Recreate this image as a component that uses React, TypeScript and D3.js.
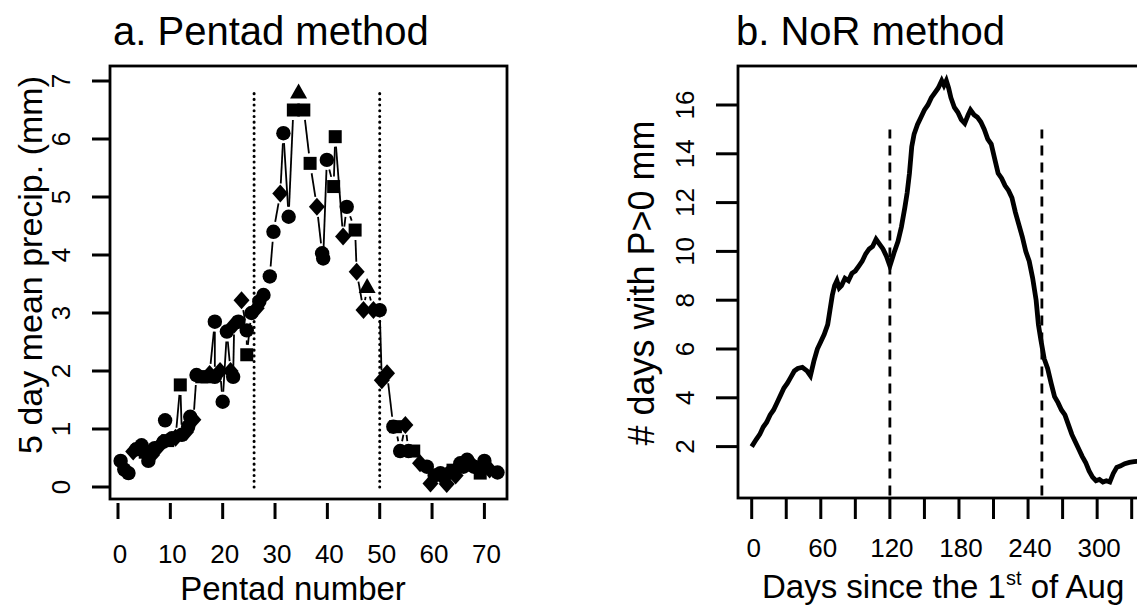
import React from "react";
import * as d3 from "d3";

// ---------- Panel a data: 5-day mean precip (pentad, value, marker shape) ----------
const pentadX: number[] = [
  0.5, 1.2, 2.0, 2.9, 3.5, 4.5, 5.2, 5.8, 6.5, 7.0, 7.8, 8.7, 9.0, 9.5, 10.3, 11.0, 11.9, 12.2, 13.0, 13.4, 13.8, 14.4,
  15.0, 16.0, 17.0, 17.5, 18.5, 18.5, 19.5, 20.0, 20.8, 21.5, 22.0, 22.2, 23.0, 23.6, 24.6, 24.6, 25.5, 26.5, 27.0, 27.8, 29.0, 29.7,
  31.0, 31.6, 32.6, 33.5, 34.5, 35.5, 36.7, 38.0, 39.0, 39.2, 39.9, 41.2, 41.5, 43.0, 43.7, 45.3, 45.6, 46.9, 47.6, 48.8, 50.0,
  50.4, 51.4, 52.6, 53.0, 53.9, 54.9, 55.5, 56.5, 57.7, 59.0, 59.7, 60.5, 61.6, 62.2, 62.8, 63.5, 64.0, 64.5, 65.4, 66.0, 66.7,
  67.5, 68.0, 69.2, 70.0, 71.0, 72.5,
];
const pentadY: number[] = [
  0.45, 0.3, 0.24, 0.61, 0.65, 0.72, 0.6, 0.45, 0.55, 0.67, 0.7, 0.78, 1.15, 0.8, 0.84, 0.85, 1.76, 0.9, 0.95, 1.04, 1.21, 1.16,
  1.93, 1.9, 1.9, 1.95, 2.85, 1.9, 2.0, 1.47, 2.68, 2.0, 1.9, 2.8, 2.85, 3.22, 2.7, 2.28, 3.0, 3.08, 3.2, 3.31, 3.63, 4.4,
  5.06, 6.1, 4.66, 6.5, 6.8, 6.5, 5.58, 4.83, 4.03, 3.94, 5.64, 5.18, 6.04, 4.32, 4.83, 4.43, 3.71, 3.05, 3.45, 3.05, 3.05,
  1.84, 1.96, 1.04, 1.04, 0.62, 1.07, 0.62, 0.62, 0.41, 0.35, 0.06, 0.2, 0.24, 0.15, 0.05, 0.25, 0.29, 0.2, 0.41, 0.35, 0.47,
  0.4, 0.35, 0.24, 0.45, 0.3, 0.25,
];
const pentadShape: string[] = [
  "c", "c", "c", "d", "c", "c", "s", "c", "d", "c", "d", "c", "c", "s", "c", "d", "s", "c", "d", "c", "c", "d",
  "c", "s", "s", "d", "c", "c", "d", "c", "c", "d", "c", "d", "c", "d", "c", "s", "c", "d", "c", "c", "c", "c",
  "d", "c", "c", "s", "t", "s", "s", "d", "c", "c", "c", "s", "s", "d", "c", "s", "d", "d", "t", "d", "c",
  "d", "d", "c", "s", "c", "d", "c", "s", "d", "c", "d", "c", "c", "d", "d", "c", "s", "d", "c", "c", "c",
  "d", "c", "s", "c", "d", "c",
];
const pentadTicks: number[] = [0, 10, 20, 30, 40, 50, 60, 70];
const precipTicks: number[] = [0, 1, 2, 3, 4, 5, 6, 7];
const pentadMarks: number[] = [26, 50];

// ---------- Panel b data: number of rainy days ----------
const norDays: number[] = [
  0, 4, 7, 10, 13, 16, 19, 22, 25, 28, 31, 34, 37, 40, 44, 48, 51, 54, 57, 60, 63, 66, 68, 70, 72, 74, 76, 78, 81, 84, 87, 90,
  93, 96, 99, 102, 105, 108, 111, 114, 117, 120, 122, 124, 127, 130, 133, 135, 137, 139, 141, 144, 147, 150, 153, 156, 159,
  162, 165, 167, 169, 171, 173, 176, 179, 182, 185, 188, 190, 193, 196, 199, 202, 205, 208, 211, 214, 217, 220, 223, 226,
  229, 232, 235, 238, 241, 244, 247, 249, 251, 254, 257, 260, 263, 266, 269, 272, 275, 278, 281, 284, 287, 290, 293, 296,
  299, 302, 305, 308, 311, 314, 317, 320, 324, 328, 332, 336, 340,
];
const norValues: number[] = [
  2.0, 2.3, 2.5, 2.8, 3.0, 3.3, 3.5, 3.8, 4.1, 4.4, 4.6, 4.85, 5.1, 5.2, 5.25, 5.1, 4.9, 5.5, 6.0, 6.3, 6.6, 7.0, 7.6, 8.2,
  8.6, 8.8, 8.5, 8.6, 8.9, 8.8, 9.1, 9.2, 9.4, 9.6, 9.9, 10.1, 10.2, 10.5, 10.3, 10.1, 9.8, 9.4, 9.7, 10.0, 10.4, 11.0,
  11.8, 12.4, 13.2, 14.3, 14.8, 15.2, 15.5, 15.8, 16.0, 16.3, 16.5, 16.7, 17.0, 16.8, 17.0, 16.7, 16.3, 15.9, 15.7, 15.4,
  15.25, 15.6, 15.8, 15.6, 15.5, 15.3, 15.0, 14.6, 14.4, 13.8, 13.2, 13.0, 12.7, 12.5, 12.2, 11.6, 11.1, 10.6, 10.0, 9.6,
  8.9, 8.0, 7.0, 6.4, 5.6, 5.2, 4.6, 4.05, 3.8, 3.5, 3.3, 2.9, 2.5, 2.2, 1.9, 1.6, 1.35, 1.0, 0.75, 0.6, 0.65, 0.55, 0.6,
  0.55, 0.9, 1.15, 1.2, 1.3, 1.35, 1.38, 1.4, 1.4,
];
const dayTicks: number[] = [0, 30, 60, 90, 120, 150, 180, 210, 240, 270, 300, 330];
const dayLabels: number[] = [0, 60, 120, 180, 240, 300];
const rainTicks: number[] = [2, 4, 6, 8, 10, 12, 14, 16];
const dayMarks: number[] = [120, 252];

const FONT = "'Liberation Sans', Arial, Helvetica, sans-serif";

export default function App() {
  const W = 1137, H = 608;
  // Panel a geometry
  const aBox = { l: 110, r: 507, t: 66, b: 499 };
  const xA = d3.scaleLinear().domain([0, 70]).range([118, 484.4]);
  const yA = d3.scaleLinear().domain([0, 7]).range([487, 81]);
  // Panel b geometry
  const bBox = { l: 738, r: 1160, t: 66, b: 498 };
  const xB = d3.scaleLinear().domain([0, 330]).range([751.7, 1131.7]);
  const yB = d3.scaleLinear().domain([2, 16]).range([446.6, 105]);

  const pts = pentadX.map((p, i) => ({ x: xA(p), y: yA(pentadY[i]), s: pentadShape[i] }));
  // type "b" connectors with gaps around the symbols
  const gap = 10;
  const connectors = pts.slice(1).map((q, i) => {
    const p = pts[i];
    const dx = q.x - p.x, dy = q.y - p.y;
    const len = Math.hypot(dx, dy);
    if (len <= 2 * gap + 2) return null;
    const ux = dx / len, uy = dy / len;
    return { x1: p.x + ux * gap, y1: p.y + uy * gap, x2: q.x - ux * gap, y2: q.y - uy * gap };
  });

  const marker = (m: { x: number; y: number; s: string }, i: number) => {
    if (m.s === "c") return <circle key={i} cx={m.x} cy={m.y} r={7.2} fill="#000" />;
    if (m.s === "s") return <rect key={i} x={m.x - 6.5} y={m.y - 6.5} width={13} height={13} fill="#000" />;
    if (m.s === "d")
      return <path key={i} d={`M${m.x},${m.y - 9}L${m.x + 8},${m.y}L${m.x},${m.y + 9}L${m.x - 8},${m.y}Z`} fill="#000" />;
    return <path key={i} d={`M${m.x},${m.y - 9}L${m.x + 8.5},${m.y + 6}L${m.x - 8.5},${m.y + 6}Z`} fill="#000" />;
  };

  const line = d3
    .line<number>()
    .x((d, i) => xB(norDays[i]))
    .y((d) => yB(d))
    .curve(d3.curveLinear);

  return (
    <svg width={W} height={H} style={{ position: "absolute", left: 0, top: 0, background: "#fff" }} fontFamily={FONT}>
      <defs>
        <clipPath id="clipB">
          <rect x={bBox.l} y={bBox.t} width={bBox.r - bBox.l} height={bBox.b - bBox.t} />
        </clipPath>
      </defs>
      <rect x={0} y={0} width={W} height={H} fill="#fff" />

      {/* ---------- Panel a ---------- */}
      <text x={113} y={45} fontSize={40} fill="#000">a. Pentad method</text>
      {pentadMarks.map((p) => (
        <line key={p} x1={xA(p)} x2={xA(p)} y1={yA(0)} y2={yA(6.8)} stroke="#000" strokeWidth={3} strokeDasharray="0.1 5.6" strokeLinecap="round" />
      ))}
      {connectors.map((c, i) =>
        c ? <line key={i} x1={c.x1} y1={c.y1} x2={c.x2} y2={c.y2} stroke="#000" strokeWidth={1.8} /> : null
      )}
      {pts.map(marker)}
      <rect x={aBox.l} y={aBox.t} width={aBox.r - aBox.l} height={aBox.b - aBox.t} fill="none" stroke="#000" strokeWidth={2.8} />
      {pentadTicks.map((t) => (
        <g key={t}>
          <line x1={xA(t)} x2={xA(t)} y1={503} y2={519} stroke="#000" strokeWidth={3} />
          <text x={xA(t) + 2} y={563} fontSize={26} textAnchor="middle" fill="#000">{t}</text>
        </g>
      ))}
      {precipTicks.map((t) => (
        <g key={t}>
          <line x1={92} x2={aBox.l} y1={yA(t)} y2={yA(t)} stroke="#000" strokeWidth={3} />
          <text transform={`translate(70,${yA(t)}) rotate(-90)`} fontSize={26} textAnchor="middle" fill="#000">{t}</text>
        </g>
      ))}
      <text x={293} y={600} fontSize={33} textAnchor="middle" fill="#000">Pentad number</text>
      <text transform={`translate(42,265) rotate(-90)`} fontSize={34} textAnchor="middle" fill="#000">
        5 day mean precip. (mm)
      </text>

      {/* ---------- Panel b ---------- */}
      <text x={736} y={45} fontSize={40} fill="#000">b. NoR method</text>
      <g clipPath="url(#clipB)">
        {dayMarks.map((d) => (
          <line key={d} x1={xB(d)} x2={xB(d)} y1={yB(0)} y2={yB(15)} stroke="#000" strokeWidth={2.8} strokeDasharray="10 7" />
        ))}
        <path d={line(norValues) || ""} fill="none" stroke="#000" strokeWidth={4.8} strokeLinejoin="miter" />
      </g>
      <rect x={bBox.l} y={bBox.t} width={bBox.r - bBox.l} height={bBox.b - bBox.t} fill="none" stroke="#000" strokeWidth={2.8} />
      {dayTicks.map((t) => (
        <line key={t} x1={xB(t)} x2={xB(t)} y1={bBox.b} y2={519} stroke="#000" strokeWidth={3} />
      ))}
      {dayLabels.map((t) => (
        <text key={t} x={xB(t) + 2} y={557} fontSize={26} textAnchor="middle" fill="#000">{t}</text>
      ))}
      {rainTicks.map((t) => (
        <g key={t}>
          <line x1={716} x2={bBox.l} y1={yB(t)} y2={yB(t)} stroke="#000" strokeWidth={3} />
          <text transform={`translate(694,${yB(t)}) rotate(-90)`} fontSize={26} textAnchor="middle" fill="#000">{t}</text>
        </g>
      ))}
      <text x={762} y={598} fontSize={33} fill="#000">
        Days since the 1<tspan fontSize={20} dy={-13}>st</tspan><tspan dy={13}> of Aug</tspan>
      </text>
      <text transform={`translate(654,283) rotate(-90)`} fontSize={36} textAnchor="middle" fill="#000">
        # days with P&gt;0 mm
      </text>
    </svg>
  );
}
